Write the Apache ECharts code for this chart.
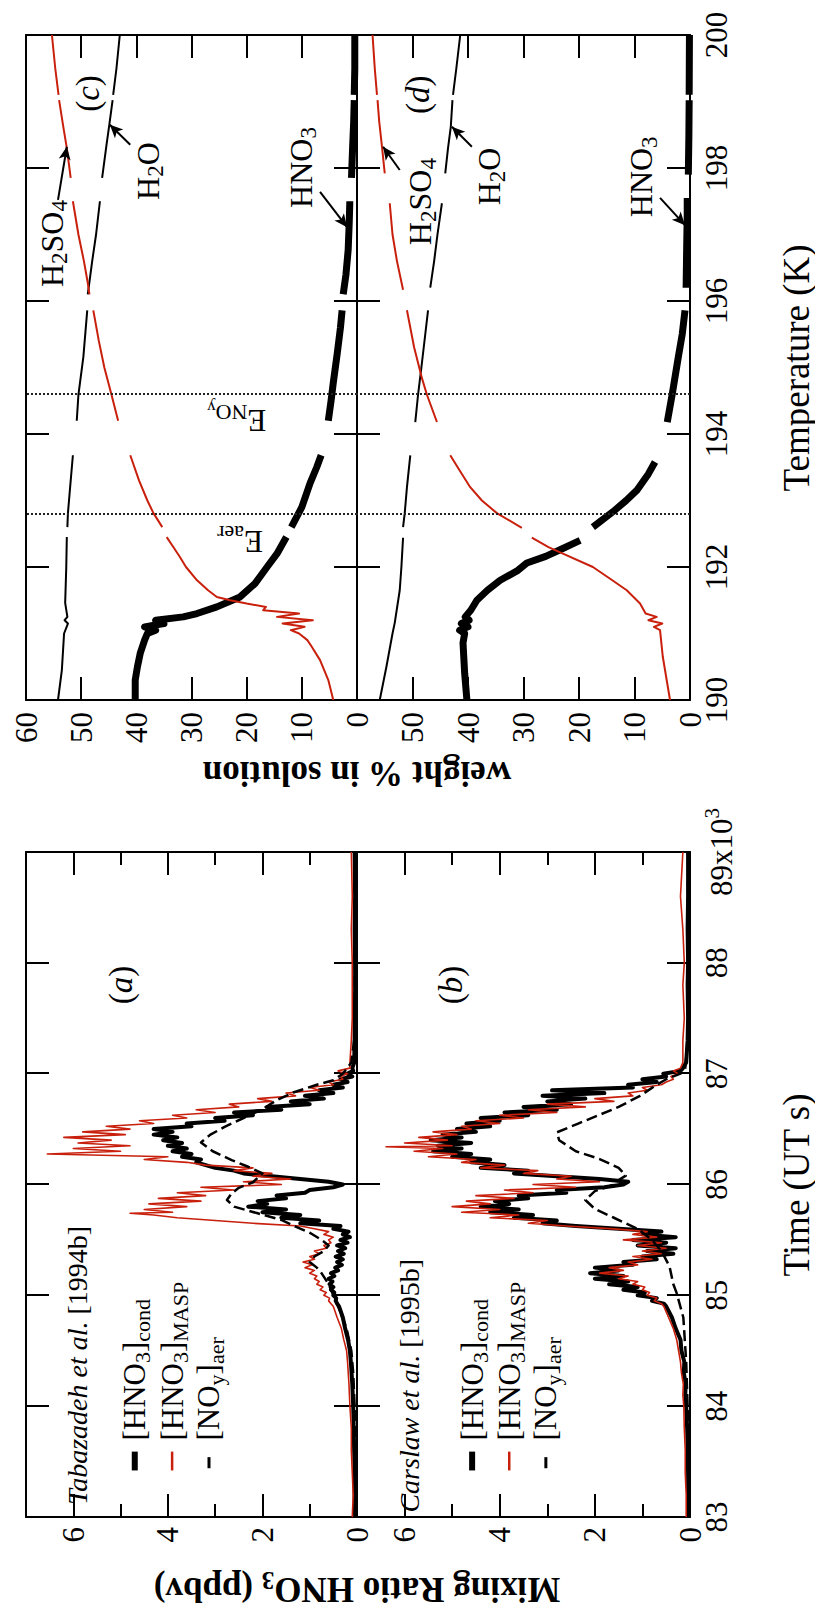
<!DOCTYPE html>
<html><head><meta charset="utf-8">
<script src="https://cdn.jsdelivr.net/npm/echarts@6/dist/echarts.min.js"></script>
<style>
html,body{margin:0;padding:0;background:#fff;width:815px;height:1608px;overflow:hidden}
#wrap{position:absolute;left:0;top:0;width:1608px;height:815px;transform-origin:0 0;transform:translate(0px,1608px) rotate(-90deg);}
#chart{width:1608px;height:815px}
</style></head><body><div id="wrap"><div id="chart"></div></div>
<script>
// ---------------- data ----------------
// Panel (a) Tabazadeh et al. [1994b]: time (10^3 s UT), mixing ratio (ppbv)
const condA = [[83.0,0.04],[83.2,0.05],[83.4,0.05],[83.6,0.06],[83.8,0.07],[84.0,0.08],[84.2,0.1],[84.4,0.13],[84.5,0.15],[84.6,0.19],[84.7,0.25],[84.8,0.3],[84.9,0.38],[84.925,0.42],[84.95,0.45],[84.975,0.44],[85.0,0.5],[85.025,0.48],[85.05,0.55],[85.075,0.5],[85.1,0.58],[85.125,0.52],[85.15,0.6],[85.175,0.48],[85.2,0.55],[85.225,0.4],[85.25,0.46],[85.275,0.32],[85.3,0.42],[85.325,0.3],[85.35,0.45],[85.375,0.28],[85.4,0.4],[85.425,0.25],[85.45,0.42],[85.475,0.2],[85.5,0.35],[85.525,0.15],[85.55,0.3],[85.575,0.18],[85.6,0.5],[85.625,0.35],[85.65,1.2],[85.675,0.8],[85.7,1.6],[85.725,1.2],[85.75,2.0],[85.775,1.5],[85.8,2.3],[85.825,1.9],[85.85,2.1],[85.875,1.5],[85.9,1.7],[85.925,1.1],[85.95,1.0],[85.975,0.5],[86.0,0.3],[86.025,0.6],[86.05,1.2],[86.075,1.8],[86.1,2.4],[86.125,2.6],[86.15,3.0],[86.175,3.2],[86.2,3.4],[86.225,3.3],[86.25,3.7],[86.275,3.5],[86.3,3.9],[86.325,3.6],[86.35,4.0],[86.375,3.7],[86.4,4.1],[86.425,3.8],[86.45,4.3],[86.475,3.9],[86.5,4.3],[86.525,3.5],[86.55,3.6],[86.575,2.8],[86.6,3.0],[86.625,2.2],[86.65,2.6],[86.675,1.6],[86.7,1.9],[86.725,1.0],[86.75,1.4],[86.775,0.7],[86.8,1.1],[86.825,0.5],[86.85,0.8],[86.875,0.3],[86.9,0.5],[86.925,0.2],[86.95,0.35],[86.975,0.1],[87.0,0.2],[87.025,0.08],[87.05,0.1],[87.1,0.06],[87.3,0.05],[87.5,0.05],[87.7,0.04],[88.0,0.04],[88.3,0.05],[88.6,0.04],[89.0,0.05]];
const maspA = [[83.0,0.1],[83.2,0.08],[83.4,0.1],[83.6,0.12],[83.8,0.12],[84.0,0.15],[84.2,0.17],[84.4,0.2],[84.5,0.22],[84.6,0.28],[84.7,0.33],[84.8,0.42],[84.9,0.5],[84.925,0.55],[84.95,0.6],[84.975,0.58],[85.0,0.7],[85.025,0.65],[85.05,0.78],[85.075,0.72],[85.1,0.85],[85.125,0.8],[85.15,0.9],[85.175,0.85],[85.2,1.0],[85.225,0.9],[85.25,1.1],[85.275,0.95],[85.3,1.14],[85.325,0.9],[85.35,1.0],[85.375,0.8],[85.4,0.9],[85.425,0.65],[85.45,0.7],[85.475,0.55],[85.5,0.6],[85.525,0.5],[85.55,0.7],[85.575,0.6],[85.6,0.9],[85.625,1.2],[85.65,2.2],[85.675,3.0],[85.7,3.8],[85.725,4.3],[85.74,4.8],[85.75,3.9],[85.775,4.5],[85.8,3.6],[85.825,4.4],[85.85,3.3],[85.875,4.2],[85.9,3.2],[85.925,3.8],[85.95,2.6],[85.975,3.3],[86.0,1.6],[86.025,2.4],[86.05,1.4],[86.075,2.2],[86.1,1.8],[86.125,2.6],[86.15,2.2],[86.175,3.2],[86.2,3.6],[86.225,4.5],[86.25,4.0],[86.275,6.55],[86.3,5.0],[86.325,6.0],[86.35,4.8],[86.375,5.9],[86.4,5.2],[86.425,6.2],[86.45,4.9],[86.475,5.8],[86.5,4.8],[86.525,5.3],[86.55,4.3],[86.575,4.6],[86.6,3.6],[86.625,3.9],[86.65,3.0],[86.675,3.4],[86.7,2.5],[86.725,2.7],[86.75,1.8],[86.775,2.1],[86.8,1.3],[86.825,1.5],[86.85,0.8],[86.875,1.0],[86.9,0.5],[86.925,0.6],[86.95,0.3],[86.975,0.35],[87.0,0.2],[87.025,0.4],[87.05,0.15],[87.1,0.15],[87.3,0.12],[87.5,0.1],[87.7,0.1],[88.0,0.1],[88.3,0.12],[88.6,0.1],[89.0,0.12]];
const noyA = [[83.0,0.02],[83.5,0.03],[84.0,0.05],[84.3,0.08],[84.5,0.12],[84.7,0.22],[84.85,0.35],[85.0,0.5],[85.1,0.6],[85.2,0.75],[85.25,0.85],[85.3,1.0],[85.35,0.9],[85.4,0.7],[85.45,0.6],[85.5,0.75],[85.56,0.98],[85.62,1.3],[85.68,1.6],[85.74,2.1],[85.8,2.6],[85.86,2.75],[85.92,2.65],[85.97,2.5],[86.02,2.2],[86.06,2.1],[86.1,2.0],[86.16,2.3],[86.22,2.65],[86.3,3.05],[86.38,3.3],[86.45,3.1],[86.52,2.8],[86.6,2.4],[86.68,2.0],[86.76,1.7],[86.83,1.35],[86.9,0.85],[86.94,0.5],[87.0,0.3],[87.1,0.12],[87.3,0.06],[87.6,0.05],[88.0,0.04],[88.5,0.04],[89.0,0.04]];
// Panel (b) Carslaw et al. [1995b]
const condB = [[83.0,0.03],[83.2,0.04],[83.4,0.04],[83.6,0.05],[83.8,0.06],[84.0,0.08],[84.1,0.1],[84.2,0.09],[84.3,0.13],[84.4,0.12],[84.5,0.18],[84.6,0.2],[84.7,0.3],[84.8,0.38],[84.9,0.5],[84.925,0.55],[84.95,0.8],[84.975,0.7],[85.0,1.1],[85.025,0.95],[85.05,1.4],[85.075,1.1],[85.1,1.7],[85.125,1.3],[85.15,2.0],[85.175,1.4],[85.2,2.1],[85.225,1.5],[85.25,2.0],[85.275,1.2],[85.3,1.4],[85.325,0.7],[85.35,1.0],[85.375,0.35],[85.4,0.9],[85.425,0.3],[85.45,1.1],[85.475,0.5],[85.5,1.2],[85.525,0.3],[85.55,1.0],[85.575,0.6],[85.6,1.5],[85.625,2.4],[85.65,3.1],[85.675,2.8],[85.7,3.7],[85.725,3.3],[85.75,4.2],[85.775,3.6],[85.8,4.4],[85.825,3.8],[85.85,4.1],[85.875,3.4],[85.9,3.6],[85.925,2.6],[85.95,2.8],[85.975,1.8],[86.0,1.4],[86.025,1.3],[86.05,1.9],[86.075,2.8],[86.1,3.7],[86.125,3.4],[86.15,4.4],[86.175,3.9],[86.2,4.6],[86.225,4.2],[86.25,5.0],[86.275,4.6],[86.3,5.4],[86.325,4.8],[86.35,5.3],[86.375,4.6],[86.4,5.45],[86.425,4.8],[86.45,5.2],[86.475,4.5],[86.5,4.9],[86.525,4.2],[86.55,4.7],[86.575,4.0],[86.6,4.4],[86.625,3.4],[86.65,3.9],[86.675,2.8],[86.7,3.5],[86.725,2.5],[86.75,3.0],[86.775,2.2],[86.8,3.1],[86.825,1.8],[86.85,2.9],[86.875,1.2],[86.9,1.3],[86.925,0.7],[86.95,1.0],[86.975,0.5],[87.0,0.56],[87.025,0.2],[87.05,0.15],[87.1,0.08],[87.3,0.05],[87.5,0.04],[87.8,0.05],[88.0,0.04],[88.3,0.05],[88.6,0.04],[89.0,0.04]];
const maspB = [[83.0,0.08],[83.2,0.08],[83.4,0.1],[83.6,0.1],[83.8,0.12],[84.0,0.13],[84.1,0.15],[84.2,0.14],[84.3,0.18],[84.4,0.2],[84.5,0.24],[84.6,0.28],[84.7,0.35],[84.8,0.45],[84.9,0.55],[84.925,0.6],[84.95,0.75],[84.975,0.7],[85.0,0.9],[85.025,0.85],[85.05,1.0],[85.075,0.95],[85.1,1.2],[85.125,1.1],[85.15,1.5],[85.175,1.3],[85.2,1.9],[85.225,1.4],[85.25,1.7],[85.275,1.1],[85.3,1.3],[85.325,0.8],[85.35,1.2],[85.375,0.6],[85.4,1.0],[85.425,0.5],[85.45,1.1],[85.475,0.6],[85.5,1.4],[85.525,0.7],[85.55,1.2],[85.575,0.9],[85.6,1.6],[85.625,2.6],[85.65,3.4],[85.675,3.0],[85.7,4.2],[85.725,3.6],[85.75,4.8],[85.775,4.0],[85.8,5.0],[85.825,4.2],[85.85,4.7],[85.875,3.7],[85.9,4.5],[85.925,3.3],[85.95,3.9],[85.975,2.4],[86.0,3.3],[86.025,1.9],[86.05,2.8],[86.075,2.5],[86.1,3.5],[86.125,3.2],[86.15,4.4],[86.175,3.9],[86.2,4.8],[86.225,4.5],[86.25,5.5],[86.275,4.9],[86.3,5.8],[86.325,5.2],[86.34,6.39],[86.35,5.0],[86.375,6.0],[86.4,5.1],[86.425,5.7],[86.45,4.9],[86.475,5.4],[86.5,4.6],[86.525,4.8],[86.55,4.0],[86.575,4.5],[86.6,3.5],[86.625,4.0],[86.65,2.8],[86.675,3.4],[86.7,2.2],[86.725,3.0],[86.75,1.6],[86.775,2.0],[86.8,1.2],[86.825,1.3],[86.85,0.9],[86.875,1.0],[86.9,0.6],[86.925,0.5],[86.95,0.35],[86.975,0.4],[87.0,0.25],[87.025,0.35],[87.05,0.2],[87.1,0.15],[87.3,0.15],[87.5,0.12],[87.8,0.15],[88.0,0.12],[88.3,0.15],[88.6,0.2],[89.0,0.15]];
const noyB = [[83.0,0.02],[83.5,0.03],[84.0,0.05],[84.4,0.08],[84.8,0.14],[85.02,0.28],[85.1,0.35],[85.26,0.43],[85.4,0.6],[85.5,0.8],[85.6,1.1],[85.7,1.6],[85.78,2.0],[85.86,2.2],[85.94,2.0],[86.0,1.6],[86.04,1.5],[86.08,1.35],[86.15,1.5],[86.23,1.9],[86.3,2.4],[86.4,2.75],[86.47,2.8],[86.55,2.35],[86.62,1.95],[86.7,1.5],[86.8,1.05],[86.9,0.7],[86.95,0.5],[87.0,0.2],[87.05,0.1],[87.3,0.05],[87.6,0.04],[88.0,0.04],[88.5,0.04],[89.0,0.04]];
// Panels (c),(d): temperature (K), weight % in solution; '-' marks data gaps
const h2so4C = [[190.0,4.3],[190.3,5.2],[190.6,6.7],[190.8,8.2],[190.9,9.0],[191.0,10.5],[191.05,12.0],[191.1,9.5],[191.15,13.5],[191.2,8.0],[191.25,14.5],[191.3,10.5],[191.35,17.0],[191.4,16.5],[191.45,20.0],[191.5,23.0],[191.55,25.4],[191.65,27.0],[191.8,29.0],[192.0,31.0],[192.15,32.1],[192.3,33.3],[192.45,34.5],[192.52,'-'],[192.6,35.3],[192.81,36.9],[193.0,38.0],[193.3,39.5],[193.68,41.1],[193.9,'-'],[194.2,43.3],[194.59,44.5],[195.0,45.8],[195.4,46.8],[195.86,47.8],[196.0,'-'],[196.1,48.5],[196.27,48.8],[196.6,49.5],[197.0,50.5],[197.5,51.5],[197.7,'-'],[197.85,51.9],[198.3,52.6],[198.6,53.2],[199.02,54.0],[199.06,'-'],[199.1,54.1],[199.5,54.7],[200.0,55.3]];
const h2oC = [[190.0,54.2],[190.45,53.5],[191.0,53.1],[191.15,52.4],[191.2,53.0],[191.25,52.5],[191.46,52.9],[192.0,52.7],[192.45,52.6],[192.52,'-'],[192.6,52.5],[192.81,52.4],[193.2,52.0],[193.68,51.5],[193.9,'-'],[194.2,50.8],[194.59,50.5],[195.16,49.6],[195.86,48.9],[196.0,'-'],[196.1,48.8],[196.6,48.0],[197.0,47.3],[197.5,46.6],[197.7,'-'],[197.85,46.2],[198.35,45.4],[198.65,44.9],[199.02,44.3],[199.06,'-'],[199.1,44.2],[199.5,43.6],[200.0,43.0]];
const hno3C = [[190.0,40.2],[190.3,40.2],[190.5,39.8],[190.7,39.3],[190.9,38.5],[191.0,38.0],[191.05,36.5],[191.1,38.5],[191.15,35.0],[191.2,36.5],[191.25,31.5],[191.3,29.0],[191.4,25.4],[191.55,21.2],[191.75,18.5],[192.0,16.3],[192.2,14.5],[192.45,12.8],[192.52,'-'],[192.6,11.9],[192.9,10.0],[193.26,8.5],[193.5,7.3],[193.68,6.5],[193.9,'-'],[194.2,5.2],[194.5,4.7],[194.77,4.3],[195.2,3.6],[195.6,3.0],[195.86,2.7],[196.0,'-'],[196.1,2.5],[196.4,2.0],[196.77,1.6],[197.2,1.4],[197.5,1.3],[197.7,'-'],[197.85,1.0],[198.3,0.8],[198.7,0.6],[199.02,0.5],[199.06,'-'],[199.1,0.5],[199.5,0.4],[200.0,0.4]];
const h2so4D = [[190.0,3.6],[190.65,4.9],[191.05,5.4],[191.1,6.5],[191.15,5.0],[191.2,7.5],[191.25,6.0],[191.3,8.0],[191.45,9.0],[191.65,11.4],[191.8,14.0],[192.0,17.5],[192.2,22.9],[192.3,25.5],[192.44,28.5],[192.52,'-'],[192.59,30.3],[192.81,34.8],[193.0,37.5],[193.2,39.6],[193.45,41.5],[193.68,43.2],[193.9,'-'],[194.18,45.6],[194.59,47.4],[194.84,48.3],[195.3,49.7],[195.86,51.0],[196.0,'-'],[196.17,51.7],[196.6,52.8],[197.0,53.6],[197.47,54.1],[197.7,'-'],[197.92,55.0],[198.32,55.5],[198.7,56.0],[199.02,56.3],[199.06,'-'],[199.1,56.4],[199.5,56.8],[200.0,57.2]];
const h2oD = [[190.0,55.9],[190.5,54.7],[191.0,53.6],[191.16,53.2],[191.65,52.3],[192.0,52.0],[192.44,51.7],[192.52,'-'],[192.6,51.7],[192.81,51.4],[193.2,51.0],[193.68,50.4],[193.9,'-'],[194.18,49.5],[194.59,49.0],[195.0,48.4],[195.5,47.7],[195.86,47.2],[196.0,'-'],[196.2,46.8],[196.6,46.1],[197.0,45.5],[197.47,44.7],[197.7,'-'],[197.92,44.1],[198.3,43.6],[198.62,43.1],[199.02,42.8],[199.06,'-'],[199.1,42.7],[199.5,42.1],[200.0,41.4]];
const hno3D = [[190.0,40.2],[190.4,40.6],[190.86,40.9],[191.0,40.6],[191.05,41.5],[191.1,40.0],[191.15,41.2],[191.2,39.8],[191.25,40.5],[191.35,39.5],[191.5,38.4],[191.65,36.5],[191.8,34.2],[191.95,31.0],[192.06,29.4],[192.16,26.0],[192.26,23.4],[192.4,19.8],[192.5,'-'],[192.6,17.5],[192.83,13.9],[193.0,11.5],[193.16,9.5],[193.4,7.5],[193.58,6.3],[193.9,'-'],[194.18,4.1],[194.6,3.2],[195.16,2.1],[195.5,1.4],[195.86,0.9],[196.0,'-'],[196.2,0.7],[196.8,0.6],[197.3,0.5],[197.55,0.5],[197.7,'-'],[197.9,0.3],[198.5,0.2],[199.02,0.15],[199.06,'-'],[199.1,0.15],[200.0,0.1]];
// equilibrium temperatures (K)
const eLines = [192.8, 194.6];
const eNames = ['aer', 'NOy'];

// ---------------- layout / style ----------------
const RED = '#c8200c', BLK = '#000', FONT = "'Liberation Serif', 'Times New Roman', 'DejaVu Serif', serif";
const grids = [[91,26,665,331],[91,357,665,333],[908,26,665,331],[908,357,665,333]];
const xr = [[83,89],[83,89],[190,200],[190,200]];
const yr = [[0,7],[0,7],[0,60],[0,60]];
function px(g,x,y){const G=grids[g];return [G[0]+(x-xr[g][0])/(xr[g][1]-xr[g][0])*G[2], G[1]+G[3]-(y-yr[g][0])/(yr[g][1]-yr[g][0])*G[3]];}

const axLine = {show:true,onZero:false,lineStyle:{color:BLK,width:2}};
const noLine = {show:false,onZero:false};
function tick(len){return {show:true,inside:true,length:len,lineStyle:{color:BLK,width:2}};}
function lab(show, fmt, margin){
  return {show, color:BLK, fontFamily:FONT, fontSize:31, margin, formatter:fmt, hideOverlap:false, showMinLabel:true, showMaxLabel:true,
    rich:{n:{color:BLK,fontFamily:FONT,fontSize:31,lineHeight:40}, p:{color:BLK,fontFamily:FONT,fontSize:21,lineHeight:40,padding:[0,0,18,0]}}};
}
const fmtTime = v => v===89 ? '{n|89x10}{p|3}' : String(v);
const xAxis=[], yAxis=[];
for (let g=0; g<4; g++){
  const time = g<2, iv = time?1:2, showX = (g===1||g===3);
  xAxis.push({type:'value',gridIndex:g,position:'bottom',offset:0,min:xr[g][0],max:xr[g][1],interval:iv,axisLine:axLine,axisTick:tick(23),splitLine:{show:false},axisLabel:lab(showX, time?fmtTime:(v=>String(v)), 11)});
  xAxis.push({type:'value',gridIndex:g,position:'top',offset:0,min:xr[g][0],max:xr[g][1],interval:iv,axisLine:axLine,axisTick:tick(23),splitLine:{show:false},axisLabel:{show:false}});
  if (time){
    yAxis.push({type:'value',gridIndex:g,position:'left',offset:0,min:0,max:7,interval:2,axisLine:axLine,axisTick:tick(23),splitLine:{show:false},axisLabel:lab(true, v=>v===7?'':String(v), 10)});
    yAxis.push({type:'value',gridIndex:g,position:'left',offset:0,min:0,max:7,interval:1,axisLine:noLine,axisTick:tick(13),splitLine:{show:false},axisLabel:{show:false}});
    yAxis.push({type:'value',gridIndex:g,position:'right',offset:0,min:0,max:7,interval:2,axisLine:axLine,axisTick:tick(23),splitLine:{show:false},axisLabel:{show:false}});
    yAxis.push({type:'value',gridIndex:g,position:'right',offset:0,min:0,max:7,interval:1,axisLine:noLine,axisTick:tick(13),splitLine:{show:false},axisLabel:{show:false}});
  } else {
    yAxis.push({type:'value',gridIndex:g,position:'left',offset:0,min:0,max:60,interval:10,axisLine:axLine,axisTick:tick(23),splitLine:{show:false},axisLabel:lab(true, g===3?(v=>v===60?'':String(v)):(v=>String(v)), 12)});
    yAxis.push({type:'value',gridIndex:g,position:'right',offset:0,min:0,max:60,interval:10,axisLine:axLine,axisTick:tick(23),splitLine:{show:false},axisLabel:{show:false}});
  }
}
const yIdx = [0,4,8,10], xIdx = [0,2,4,6];
function line(g, data, color, width, type, z, extra){
  return Object.assign({type:'line', xAxisIndex:xIdx[g], yAxisIndex:yIdx[g], data, symbol:'none', showSymbol:false, clip:true, silent:true, z,
    connectNulls:false, lineStyle:{color, width, type:type||'solid', join:'round', cap:'butt'}, emphasis:{disabled:true}}, extra||{});
}
function arrows(list){
  return {silent:true, symbol:['none','arrow'], symbolSize:[9,13], label:{show:false}, emphasis:{disabled:true},
    lineStyle:{color:BLK,width:2,type:'solid'}, itemStyle:{color:BLK},
    data:list.map(a=>[{coord:a[0]},{coord:a[1]}])};
}
const eMark = {silent:true, symbol:'none', label:{show:false}, emphasis:{disabled:true},
  lineStyle:{color:'#222',width:1.8,type:[2,2]}, data:eLines.map(v=>({xAxis:v}))};

const series = [
  line(0, condA, BLK, 4, 'solid', 2), line(0, maspA, RED, 1.6, 'solid', 3), line(0, noyA, BLK, 2.5, [11,5], 4),
  line(1, condB, BLK, 4, 'solid', 2), line(1, maspB, RED, 1.6, 'solid', 3), line(1, noyB, BLK, 2.5, [11,5], 4),
  line(2, hno3C, BLK, 7, 'solid', 2, {markLine:eMark}), line(2, h2oC, BLK, 2, 'solid', 3),
  line(2, h2so4C, RED, 2, 'solid', 4, {markLine:arrows([[[197.52,54.2],[198.32,52.6]],[[198.35,41.1],[198.65,44.8]],[[197.64,6.7],[197.11,1.8]]])}),
  line(3, hno3D, BLK, 7, 'solid', 2, {markLine:eMark}), line(3, h2oD, BLK, 2, 'solid', 3),
  line(3, h2so4D, RED, 2, 'solid', 4, {markLine:arrows([[[197.97,52.3],[198.32,55.3]],[[198.32,39.3],[198.62,42.9]],[[197.55,5.4],[197.14,0.9]]])})
];

// ---------------- annotations ----------------
function rich(size, weight){
  const s = Math.round(size*0.72);
  const base = {fontFamily:FONT, fill:BLK, color:BLK, lineHeight:Math.round(size*1.5)};
  return {
    m: Object.assign({fontSize:size, fontWeight:weight||'normal'}, base),
    i: Object.assign({fontSize:size, fontStyle:'italic', fontWeight:weight||'normal'}, base),
    s: Object.assign({fontSize:s, fontWeight:weight||'normal', padding:[Math.round(size*0.5),0,0,0]}, base),
    t: Object.assign({fontSize:Math.round(s*0.75), fontWeight:weight||'normal', padding:[Math.round(size*0.85),0,0,0]}, base)
  };
}
function txt(p, text, size, o){
  o = o||{};
  const al = o.align||'left';
  return {type:'text', x:p[0], y:p[1], rotation:o.rot||0, silent:true, z:50,
    style:{text, rich:rich(size, o.weight), fill:BLK, fontFamily:FONT, fontSize:size, fontWeight:o.weight||'normal',
      align:al, textAlign:al, verticalAlign:'middle', textVerticalAlign:'middle'}};
}
function seg(p1, p2, color, w){
  return {type:'line', silent:true, z:50, shape:{x1:p1[0],y1:p1[1],x2:p2[0],y2:p2[1]}, style:{stroke:color, lineWidth:w}};
}
const graphic = [];
const cites = [['{i|Tabazadeh et al.}{m| [1994b]}', 83.11, 5.92], ['{i|Carslaw et al.}{m| [1995b]}', 83.04, 5.89]];
const legRows = [[4.70,3.91,3.13],[4.58,3.80,3.03]];
const legText = ['{m|[HNO}{s|3}{m|]}{s|cond}', '{m|[HNO}{s|3}{m|]}{s|MASP}', '{m|[NO}{s|y}{m|]}{s|aer}'];
const letters = [['{m|(}{i|a}{m|)}',87.8,4.99],['{m|(}{i|b}{m|)}',87.8,5.02],['{m|(}{i|c}{m|)}',199.12,48.8],['{m|(}{i|d}{m|)}',199.1,49.0]];
for (let g=0; g<2; g++){
  graphic.push(txt(px(g, cites[g][1], cites[g][2]), cites[g][0], 28));
  const r = legRows[g];
  graphic.push(seg(px(g,83.42,r[0]), px(g,83.59,r[0]), BLK, 6));
  graphic.push(seg(px(g,83.42,r[1]), px(g,83.59,r[1]), RED, 2.5));
  graphic.push(seg(px(g,83.44,r[2]), px(g,83.54,r[2]), BLK, 3));
  for (let k=0;k<3;k++) graphic.push(txt(px(g,83.69,r[k]), legText[k], 31));
}
letters.forEach((L,g)=>graphic.push(txt(px(g, L[1], L[2]), L[0], 33, {align:'center'})));
const chem = [
  [2,'{m|H}{s|2}{m|SO}{s|4}',196.21,55.3],[2,'{m|H}{s|2}{m|O}',197.52,37.9],[2,'{m|HNO}{s|3}',197.4,10.2],
  [3,'{m|H}{s|2}{m|SO}{s|4}',196.84,48.6],[3,'{m|H}{s|2}{m|O}',197.44,36.2],[3,'{m|HNO}{s|3}',197.26,8.8]
];
chem.forEach(c=>graphic.push(txt(px(c[0],c[2],c[3]), c[1], 32)));
graphic.push(txt(px(2,192.39,21.2), '{m|E}{s|'+eNames[0]+'}', 31, {align:'center', rot:Math.PI/2}));
graphic.push(txt(px(2,194.21,21.8), '{m|E}{s|NO}{t|y}', 31, {align:'center', rot:Math.PI/2}));
graphic.push(txt([19,357], '{m|Mixing Ratio HNO}{s|3}{m| (ppbv)}', 35, {align:'center', rot:Math.PI/2, weight:'bold'}));
graphic.push(txt([835,357], '{m|weight % in solution}', 35, {align:'center', rot:Math.PI/2, weight:'bold'}));
graphic.push(txt([423,796], '{m|Time (UT s)}', 37, {align:'center'}));
graphic.push(txt([1240,796], '{m|Temperature (K)}', 37, {align:'center'}));

const chart = echarts.init(document.getElementById('chart'), null, {renderer:'svg', width:1608, height:815});
chart.setOption({
  animation:false, backgroundColor:'#fff',
  grid: grids.map(G=>({left:G[0], top:G[1], width:G[2], height:G[3], show:false, containLabel:false})),
  xAxis, yAxis, series, graphic
});
</script></body></html>
